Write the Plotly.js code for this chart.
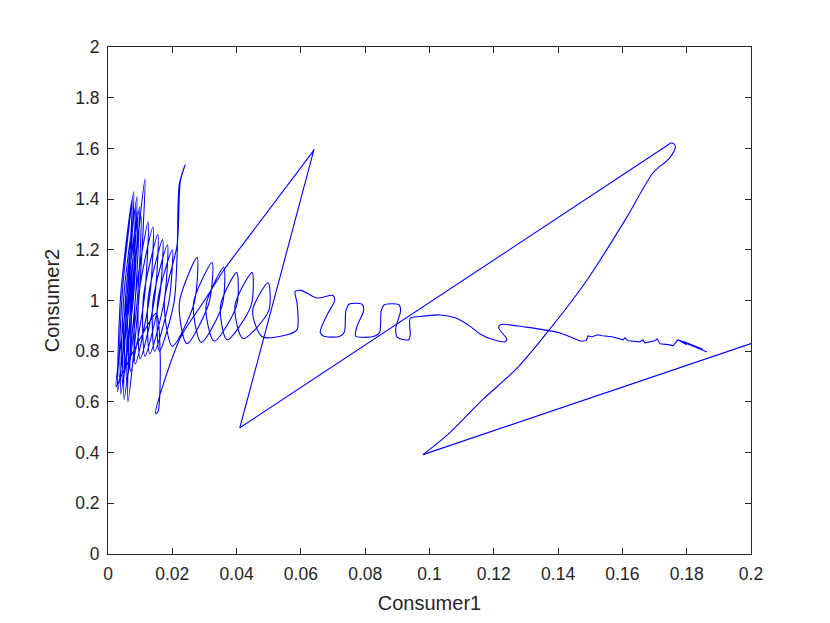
<!DOCTYPE html>
<html>
<head>
<meta charset="utf-8">
<script src="https://cdn.plot.ly/plotly-3.0.1.min.js"></script>
<style>
  html, body { margin: 0; padding: 0; background: #fff; }
  #plot { width: 830px; height: 623px; }
</style>
</head>
<body>
<div id="plot"></div>
<script>
// start (off to the right) down to the low point
const startX = [0.2, 0.098];
const startY = [0.83, 0.392];

// the bowed climb up to the top right tip
const climbX = [0.098, 0.1060, 0.1166, 0.1270, 0.1365, 0.149, 0.1614, 0.1695, 0.1745, 0.1765, 0.1760, 0.1752];
const climbY = [0.392, 0.475, 0.610, 0.730, 0.872, 1.081, 1.329, 1.503, 1.560, 1.605, 1.618, 1.622];

// straight jumps back to the left
const jumpX = [0.1752, 0.041, 0.0641, 0.0636, 0.0364];
const jumpY = [1.622, 0.498, 1.597, 1.585, 1.128];

// oscillating part, drawn smooth
const oscX = [0.0364, 0.0300, 0.0224, 0.0148, 0.0155, 0.0162, 0.0150, 0.0100, 0.0040,
  0.0025, 0.0060, 0.0075, 0.0040,
  0.0030, 0.0065, 0.0080, 0.0045,
  0.0035, 0.0070, 0.0085, 0.0050,
  0.0040, 0.0075, 0.0090, 0.0055,
  0.0045, 0.0079, 0.0093, 0.0059,
  0.0050, 0.0084, 0.0098, 0.0064,
  0.0058, 0.0091, 0.0103, 0.0071,
  0.0062, 0.0098, 0.0115, 0.0078,
  0.0070, 0.0113, 0.0125, 0.0085,
  0.0085, 0.0130, 0.0140, 0.0096,
  0.0100, 0.0145, 0.0155, 0.0110,
  0.0115, 0.0160, 0.0170, 0.0125,
  0.0130, 0.0175, 0.0185, 0.0140,
  0.0145, 0.0190, 0.0200, 0.0155,
  0.0160, 0.0205, 0.0215, 0.0222, 0.0240, 0.0225, 0.0215, 0.0175,
  0.0200, 0.0268, 0.0277, 0.0222,
  0.0245, 0.0314, 0.0324, 0.0266,
  0.0290, 0.0355, 0.0360, 0.0305,
  0.0330, 0.0400, 0.0400, 0.0350,
  0.0370, 0.0445, 0.0448, 0.0395,
  0.0420, 0.0500, 0.0498, 0.0450,
  0.0480, 0.0560, 0.0588, 0.0588, 0.0582, 0.0600, 0.0650,
  0.0700, 0.0705, 0.0680, 0.0660, 0.0670, 0.0720, 0.0735, 0.0740, 0.0750,
  0.0790, 0.0795, 0.0775, 0.0770, 0.0790, 0.0830, 0.0845, 0.0850, 0.0860, 0.0905,
  0.0910, 0.0895, 0.0900, 0.0935, 0.0940, 0.0940, 0.0970, 0.1033, 0.1080, 0.1125,
  0.1157, 0.1200, 0.1235, 0.1240, 0.1215, 0.1222, 0.1300, 0.1406, 0.1468];
const oscY = [1.128, 1.000, 0.850, 0.555, 0.560, 0.800, 0.950, 0.850, 0.700,
  0.66, 1.03, 1.40, 1.03,
  0.64, 1.04, 1.43, 1.04,
  0.70, 1.03, 1.37, 1.03,
  0.63, 1.02, 1.41, 1.02,
  0.67, 1.01, 1.35, 1.01,
  0.61, 0.99, 1.37, 0.99,
  0.68, 1.00, 1.33, 1.00,
  0.60, 1.04, 1.48, 1.04,
  0.72, 1.01, 1.31, 1.01,
  0.75, 1.02, 1.29, 1.02,
  0.77, 1.01, 1.26, 1.01,
  0.78, 1.01, 1.24, 1.01,
  0.79, 1.00, 1.22, 1.00,
  0.80, 1.00, 1.20, 1.00,
  0.80, 0.99, 1.18, 1.46, 1.535, 1.47, 1.22, 0.99,
  0.82, 0.99, 1.17, 0.99,
  0.83, 0.99, 1.15, 0.99,
  0.835, 0.98, 1.13, 0.98,
  0.84, 0.98, 1.11, 0.98,
  0.845, 0.98, 1.11, 0.98,
  0.85, 0.96, 1.07, 0.96,
  0.857, 0.866, 0.885, 0.990, 1.035, 1.040, 1.010,
  1.020, 1.000, 0.940, 0.875, 0.860, 0.858, 0.875, 0.960, 0.985,
  0.985, 0.960, 0.900, 0.860, 0.855, 0.860, 0.875, 0.960, 0.983, 0.983,
  0.960, 0.890, 0.855, 0.845, 0.865, 0.930, 0.937, 0.943, 0.932, 0.900,
  0.868, 0.845, 0.837, 0.848, 0.893, 0.905, 0.895, 0.872, 0.840];

// noisy tail
const tailX = [0.1468, 0.1487, 0.1493, 0.1505, 0.1524, 0.1537, 0.1568, 0.1602, 0.1608, 0.1617,
  0.1655, 0.1664, 0.1670, 0.1701, 0.1708, 0.1717, 0.1748, 0.1757, 0.1773, 0.1800, 0.1779,
  0.1830, 0.1790, 0.1850, 0.1800, 0.1863];
const tailY = [0.840, 0.841, 0.860, 0.857, 0.865, 0.861, 0.857, 0.845, 0.853, 0.841,
  0.837, 0.845, 0.833, 0.841, 0.849, 0.829, 0.825, 0.821, 0.845, 0.825, 0.842,
  0.815, 0.838, 0.808, 0.830, 0.797];

const xTicks = [0, 0.02, 0.04, 0.06, 0.08, 0.1, 0.12, 0.14, 0.16, 0.18, 0.2];
const xTickText = ['0', '0.02', '0.04', '0.06', '0.08', '0.1', '0.12', '0.14', '0.16', '0.18', '0.2'];
const yTicks = [0, 0.2, 0.4, 0.6, 0.8, 1, 1.2, 1.4, 1.6, 1.8, 2];
const yTickText = ['0', '0.2', '0.4', '0.6', '0.8', '1', '1.2', '1.4', '1.6', '1.8', '2'];

const blue = {color: '#0000ff', width: 1.1};
const smooth = {...blue, shape: 'spline', smoothing: 0.8};
const line = (x, y, l) => ({x, y, type: 'scatter', mode: 'lines', line: l, hoverinfo: 'skip'});

const traces = [
  line(startX, startY, blue),
  line(climbX, climbY, smooth),
  line(jumpX, jumpY, blue),
  line(oscX, oscY, smooth),
  line(tailX, tailY, blue)
];

const font = 'Liberation Sans, Arial, sans-serif';
const axisStyle = {
  showline: true, mirror: 'ticks', linecolor: '#262626', linewidth: 1,
  ticks: 'inside', ticklen: 6, tickcolor: '#262626', tickwidth: 1,
  showgrid: false, zeroline: false, ticklabelstandoff: 4,
  tickfont: {family: font, size: 17.5, color: '#262626'}
};

const layout = {
  width: 830, height: 623,
  margin: {l: 108, r: 79, t: 47, b: 69},
  paper_bgcolor: '#ffffff', plot_bgcolor: '#ffffff',
  showlegend: false,
  xaxis: {...axisStyle, range: [0, 0.2], tickmode: 'array', tickvals: xTicks, ticktext: xTickText,
    title: {text: 'Consumer1', standoff: 12, font: {family: font, size: 20, color: '#262626'}}},
  yaxis: {...axisStyle, range: [0, 2], tickmode: 'array', tickvals: yTicks, ticktext: yTickText,
    title: {text: 'Consumer2', standoff: 10, font: {family: font, size: 20, color: '#262626'}}}
};

Plotly.newPlot('plot', traces, layout, {staticPlot: true});
</script>
</body>
</html>
